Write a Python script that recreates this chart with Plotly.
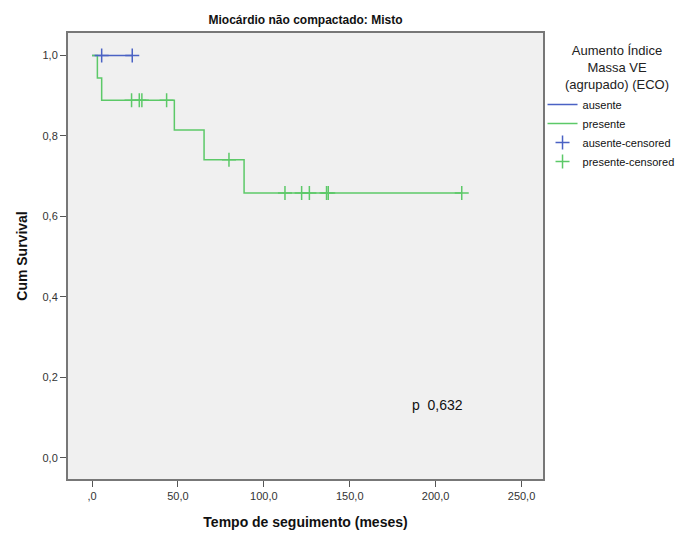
import plotly.graph_objects as go

# Step curves (time in months, cumulative survival)
ausente_time = [0, 23.4]
ausente_surv = [1.0, 1.0]
presente_time = [0, 3.1, 5.6, 47.9, 65.2, 88.5, 215.2]
presente_surv = [1.0, 0.944, 0.889, 0.815, 0.741, 0.658, 0.658]

# Censored observations
ausente_cens_time = [5.6, 23.4]
ausente_cens_surv = [1.0, 1.0]
presente_cens_time = [23.0, 27.5, 29.0, 43.4, 79.7, 112.3, 122.0, 126.5, 136.5, 137.5, 215.2]
presente_cens_surv = [0.889, 0.889, 0.889, 0.889, 0.741, 0.658, 0.658, 0.658, 0.658, 0.658, 0.658]

x_ticks = [0, 50, 100, 150, 200, 250]
x_tick_labels = [",0", "50,0", "100,0", "150,0", "200,0", "250,0"]
y_ticks = [0, 0.2, 0.4, 0.6, 0.8, 1.0]
y_tick_labels = ["0,0", "0,2", "0,4", "0,6", "0,8", "1,0"]

BLUE = "#4a62c4"
GREEN = "#5cc968"
FONT = "Liberation Sans, Arial"

fig = go.Figure()
fig.add_trace(go.Scatter(x=ausente_time, y=ausente_surv, mode="lines", line_shape="hv",
                         line=dict(color=BLUE, width=1.5), name="ausente"))
fig.add_trace(go.Scatter(x=presente_time, y=presente_surv, mode="lines", line_shape="hv",
                         line=dict(color=GREEN, width=1.5), name="presente"))
fig.add_trace(go.Scatter(x=ausente_cens_time, y=ausente_cens_surv, mode="markers",
                         marker=dict(symbol="cross-thin-open", size=10, color=BLUE,
                                     line=dict(color=BLUE, width=1.5)),
                         name="ausente-censored"))
fig.add_trace(go.Scatter(x=presente_cens_time, y=presente_cens_surv, mode="markers",
                         marker=dict(symbol="cross-thin-open", size=10, color=GREEN,
                                     line=dict(color=GREEN, width=1.5)),
                         name="presente-censored"))

fig.add_annotation(x=200.8, y=0.131, xref="x", yref="y", text="p  0,632", showarrow=False,
                   font=dict(family=FONT, size=14, color="#111"))

# legend title as centered text
fig.add_annotation(x=1.155, y=1.0, xref="paper", yref="paper", xanchor="center", yanchor="top",
                   yshift=-8, align="center", showarrow=False,
                   text="Aumento Índice<br>Massa VE<br>(agrupado) (ECO)",
                   font=dict(family=FONT, size=13, color="#222"))

fig.update_layout(
    width=684, height=533,
    margin=dict(l=60, r=149, t=25, b=62),
    paper_bgcolor="white",
    plot_bgcolor="#f0f0f0",
    font=dict(family=FONT, size=11, color="#333"),
    title=dict(text="<b>Miocárdio não compactado: Misto</b>", x=0.5, xref="paper",
               y=1, yref="container", yanchor="top", pad=dict(t=8),
               font=dict(size=12, color="#111")),
    showlegend=True,
    legend=dict(
        x=0.999, xanchor="left", y=0.872, yanchor="top",
        font=dict(size=11, color="#111"),
        bgcolor="rgba(0,0,0,0)",
        itemwidth=30, tracegroupgap=0,
    ),
    xaxis=dict(
        range=[-14, 262.5], tickvals=x_ticks, ticktext=x_tick_labels,
        showgrid=False, zeroline=False, showline=True, mirror=True,
        linecolor="#777", linewidth=2, ticks="outside", ticklen=6, tickcolor="#555",
        title=dict(text="<b>Tempo de seguimento (meses)</b>", standoff=16,
                   font=dict(size=14, color="#111")),
    ),
    yaxis=dict(
        range=[-0.053, 1.056], tickvals=y_ticks, ticktext=y_tick_labels,
        showgrid=False, zeroline=False, showline=True, mirror=True,
        linecolor="#777", linewidth=2, ticks="outside", ticklen=6, tickcolor="#555",
        title=dict(text="<b>Cum Survival</b>", standoff=12,
                   font=dict(size=14, color="#111")),
    ),
)

fig.write_html("out.html")
